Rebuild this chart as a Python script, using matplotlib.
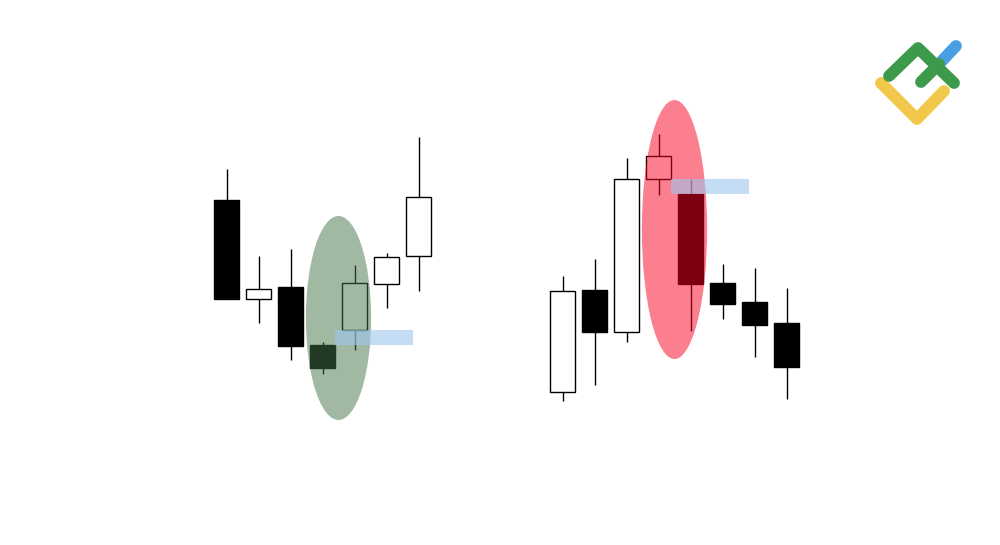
import matplotlib.pyplot as plt
import numpy as np
from matplotlib.patches import Ellipse, Rectangle

# left pattern (bullish), prices in chart units
opens_l = [345, 246, 258, 200, 215, 261, 289]
highs_l = [376, 289, 296, 203, 280, 292, 408]
lows_l = [246, 222, 185, 171, 195, 237, 254]
closes_l = [246, 256, 199, 177, 262, 288, 348]

# right pattern (bearish)
opens_r = [153, 255, 213, 366, 351, 262, 243, 222]
highs_r = [269, 286, 387, 411, 366, 281, 277, 257]
lows_r = [144, 160, 203, 350, 214, 226, 188, 146]
closes_r = [254, 213, 366, 389, 261, 241, 220, 178]

# highlight ellipses: (price bottom, price top)
ellipse_l = (125, 329)
ellipse_r = (186, 445)

# logo strokes in pixel coords
logo_yellow = [(881, 83), (917, 119), (944, 91)]
logo_green = [(889, 76), (918, 48), (954, 83)]
logo_green2 = [(921, 82), (939, 64)]
logo_blue = [(939, 64), (956, 46)]

BODY_W = 0.77
PX = 32.0


def draw_candles(ax, xs, o, h, l, c):
    o, h, l, c = map(np.asarray, (o, h, l, c))
    ax.vlines(xs, l, h, color="black", linewidth=1.0, zorder=1)
    up = c >= o
    fills = np.where(up, "white", "black")
    ax.bar(xs, c - o, bottom=o, width=BODY_W, color=fills,
           edgecolor="black", linewidth=1.0, zorder=2)


def highlight(ax, xs, o, span, color):
    # ellipse around candles 4 and 5, gap box between their opens
    cx = (xs[3] + xs[4]) / 2
    ax.add_patch(Ellipse((cx, (span[0] + span[1]) / 2), 2.04, span[1] - span[0],
                         facecolor=color, alpha=0.5, edgecolor="none", zorder=3))
    lo, hi = sorted((o[3], o[4]))
    x0 = xs[3] + BODY_W / 2
    ax.add_patch(Rectangle((x0, lo), xs[3] + 2.83 - x0, hi - lo,
                           facecolor="#9ec5ee", alpha=0.6, edgecolor="none", zorder=4))


fig = plt.figure(figsize=(10, 5.45), dpi=100)
ax = fig.add_axes([0, 0, 1, 1])
ax.set_xlim(-226.5 / PX, 773.5 / PX)
ax.set_ylim(0, 545)
ax.axis("off")

xs_l = np.arange(len(opens_l))
xs_r = 10.5 + np.arange(len(opens_r))

draw_candles(ax, xs_l, opens_l, highs_l, lows_l, closes_l)
draw_candles(ax, xs_r, opens_r, highs_r, lows_r, closes_r)
highlight(ax, xs_l, opens_l, ellipse_l, "#447448")
highlight(ax, xs_r, opens_r, ellipse_r, "#fa0020")

# logo
lax = fig.add_axes([0, 0, 1, 1])
lax.set_xlim(0, 1000)
lax.set_ylim(545, 0)
lax.axis("off")
for pts, col in [(logo_yellow, "#f2c84b"), (logo_blue, "#4a9fe3"),
                 (logo_green2, "#3e9a4b"), (logo_green, "#3e9a4b")]:
    px, py = zip(*pts)
    lax.plot(px, py, color=col, linewidth=8.5, solid_capstyle="round",
             solid_joinstyle="round")

fig.savefig("out.png", dpi=100, facecolor="white")
